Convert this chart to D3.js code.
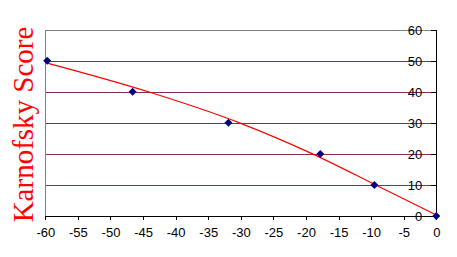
<!DOCTYPE html>
<html>
<head>
<meta charset="utf-8">
<script src="https://cdn.jsdelivr.net/npm/d3@7"></script>
<style>
  html, body { margin: 0; padding: 0; background: #fff; }
  svg { display: block; }
</style>
</head>
<body>
<svg id="chart" width="457" height="257"></svg>
<script>
// ---- data ----
const pointX = [-59.7, -46.6, -31.9, -17.8, -9.5, 0];
const pointY = [50, 40, 30, 20, 10, 0];
const trendX = [-60, -44.2, -30.2, -19, -9.3, 0];
const trendY = [49.4, 40, 30, 20, 10, 0.3];
const xTicks = [-60, -55, -50, -45, -40, -35, -30, -25, -20, -15, -10, -5, 0];
const yTicks = [0, 10, 20, 30, 40, 50, 60];
const yTitle = "Karnofsky Score";

const svg = d3.select("#chart");
const L = 45.3, R = 436.3, T = 29.7, B = 216;
const x = d3.scaleLinear().domain([-60, 0]).range([L, R]);
const y = d3.scaleLinear().domain([0, 60]).range([B, T]);

// gridlines
svg.append("g").selectAll("line").data(yTicks.filter(d => d > 0 && d < 60)).join("line")
  .attr("x1", L).attr("x2", R)
  .attr("y1", d => Math.round(y(d)) + 0.5).attr("y2", d => Math.round(y(d)) + 0.5)
  .attr("stroke", "#862a5a").attr("stroke-width", 1).attr("shape-rendering", "crispEdges");

// plot border (top & left gray)
svg.append("line").attr("x1", L).attr("x2", R).attr("y1", Math.round(T) + 0.5).attr("y2", Math.round(T) + 0.5)
  .attr("stroke", "#808080").attr("shape-rendering", "crispEdges");
svg.append("line").attr("x1", Math.round(L) + 0.5).attr("x2", Math.round(L) + 0.5).attr("y1", T).attr("y2", B)
  .attr("stroke", "#808080").attr("shape-rendering", "crispEdges");

// bottom axis
const xAxis = d3.axisBottom(x).tickValues(xTicks).tickSize(4).tickSizeOuter(0).tickPadding(8)
  .tickFormat(d3.format("d"));
const gx = svg.append("g").attr("transform", `translate(0,${B})`).call(xAxis);
gx.select(".domain").attr("stroke", "#000").attr("shape-rendering", "crispEdges");
gx.selectAll(".tick line").attr("stroke", "#000").attr("shape-rendering", "crispEdges");
gx.selectAll("text").attr("font-family", "Liberation Sans, Arial, sans-serif")
  .attr("font-size", "13px").attr("fill", "#000").text(d => d < 0 ? "-" + Math.abs(d) : d);

// right axis with inward ticks, labels inside
const yAxis = d3.axisRight(y).tickValues(yTicks).tickSize(-5).tickSizeOuter(0).tickPadding(0)
  .tickFormat(d3.format("d"));
const gy = svg.append("g").attr("transform", `translate(${R},0)`).call(yAxis);
gy.select(".domain").attr("stroke", "#000").attr("shape-rendering", "crispEdges");
gy.selectAll(".tick line").attr("stroke", "#000").attr("shape-rendering", "crispEdges");
gy.selectAll("text").attr("font-family", "Liberation Sans, Arial, sans-serif")
  .attr("font-size", "13px").attr("fill", "#000")
  .attr("text-anchor", "end").attr("x", -14).attr("dy", "0.36em");

// trend line
const trend = trendX.map((v, i) => [v, trendY[i]]);
svg.append("path").datum(trend)
  .attr("fill", "none").attr("stroke", "#ff0000").attr("stroke-width", 1.2)
  .attr("d", d3.line().x(d => x(d[0])).y(d => y(d[1])).curve(d3.curveMonotoneX));

// diamond markers
const pts = pointX.map((v, i) => [v, pointY[i]]);
svg.append("g").selectAll("path").data(pts).join("path")
  .attr("transform", d => `translate(${x(d[0])},${y(d[1])})`)
  .attr("d", "M0,-4L4,0L0,4L-4,0Z")
  .attr("fill", "#000080");

// y title
svg.append("text")
  .attr("transform", `translate(33,${(27 + 222) / 2}) rotate(-90)`)
  .attr("text-anchor", "middle")
  .attr("font-family", "Liberation Serif, Times New Roman, serif")
  .attr("font-size", "29px").attr("fill", "#ff0000")
  .text(yTitle);
</script>
</body>
</html>
